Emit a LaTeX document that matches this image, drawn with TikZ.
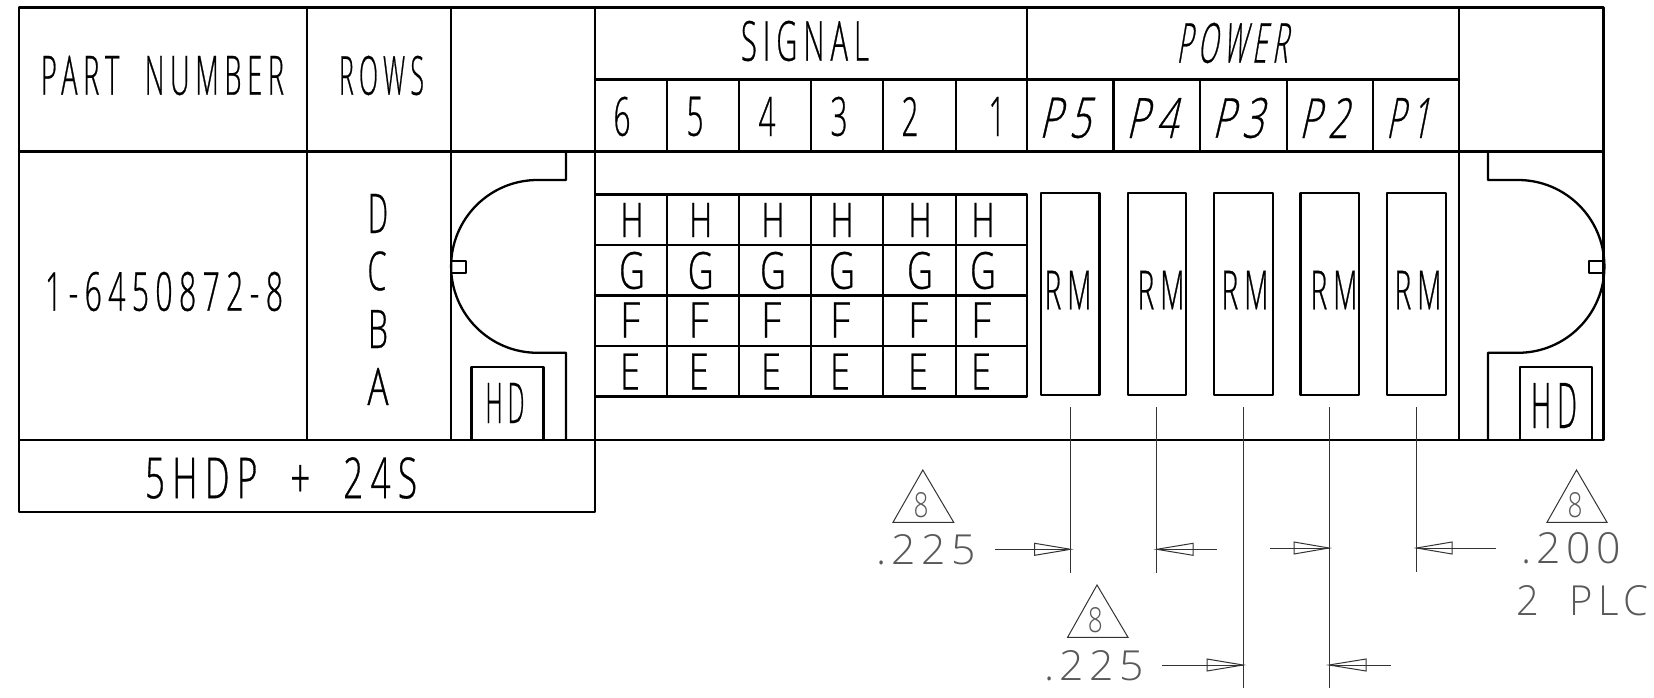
\documentclass[tikz,border=0pt]{standalone}
\usepackage{fontspec}
\newfontfamily\cad[FakeStretch=0.57,LetterSpace=12,FakeBold=0.5]{Open Sans Light}
\newfontfamily\cadi[FakeStretch=0.57,LetterSpace=12,FakeSlant=0.2,FakeBold=0.5]{Open Sans Light}
\newfontfamily\cadd[FakeStretch=0.62,LetterSpace=8]{Open Sans Light}
\newcommand\T[3]{\resizebox{#1pt}{#2pt}{\fontsize{53}{53}\cad #3}}
\newcommand\TI[3]{\resizebox{#1pt}{#2pt}{\fontsize{53}{53}\cadi #3}}
\newcommand\TD[3]{\resizebox{#1pt}{#2pt}{\fontsize{53}{53}\cadd #3}}
\tikzset{
  heavy/.style={line width=2.3pt,line cap=round,line join=round,black},
  thinline/.style={line width=1pt,black!80},
  lbl/.style={inner sep=0pt,outer sep=0pt,anchor=center,black},
  dim/.style={inner sep=0pt,outer sep=0pt,anchor=center,black!65},
}
\begin{document}
\begin{tikzpicture}[x=1pt,y=-1pt]
\useasboundingbox (0,0) rectangle (1654,698);
% outer frame and table rules
\draw[heavy] (19,7.5) rectangle (1603.5,440);
\draw[heavy] (19,151.5) -- (1603.5,151.5);
\draw[heavy] (19,440) -- (19,512) -- (595,512) -- (595,440);
\foreach \x in {307,451}{\draw[heavy] (\x,7.5) -- (\x,440);}
\draw[heavy] (595,7.5) -- (595,440);
\draw[heavy] (1459,7.5) -- (1459,440);
\draw[heavy] (1027,7.5) -- (1027,151.5);
\draw[heavy] (595,79.5) -- (1459,79.5);
\foreach \x in {667,739,811,883,956}{\draw[heavy] (\x,79.5) -- (\x,151.5);}
\foreach \x in {1113.5,1200,1287,1373}{\draw[heavy] (\x,79.5) -- (\x,151.5);}
% left key
\draw[heavy] (566,151.5) -- (566,180) -- (537.5,180) arc[start angle=90,end angle=270,radius=86.4pt] -- (566,352.8) -- (566,440);
\draw[heavy] (451,261) -- (466,261) -- (466,273) -- (451,273);
\draw[heavy] (471.5,440) -- (471.5,367) -- (543.5,367) -- (543.5,440);
% right key
\draw[heavy] (1488,151.5) -- (1488,180) -- (1518,180) arc[start angle=90,end angle=-90,radius=86.4pt] -- (1488,352.8) -- (1488,440);
\draw[heavy] (1603,261) -- (1589,261) -- (1589,273) -- (1603,273);
\draw[heavy] (1520,440) -- (1520,367) -- (1592,367) -- (1592,440);
% signal grid
\draw[heavy] (595,194.5) -- (1027,194.5) -- (1027,396.5) -- (595,396.5);
\foreach \y in {245,295.5,346}{\draw[heavy] (595,\y) -- (1027,\y);}
\foreach \x in {667,739,811,883,956}{\draw[heavy] (\x,194.5) -- (\x,396.5);}
% power contacts
\foreach \a/\b in {1041/1099.5,1128/1186,1214/1273,1300.5/1359,1387/1446}{\draw[heavy] (\a,193) rectangle (\b,395);}
% headings
\node[lbl] (partnumber) at (162.5,75.5) {\T{243}{39}{PART\ \ NUMBER}};
\node[lbl] (rows) at (381.5,75.5) {\T{85}{39}{ROWS}};
\node[lbl] (partno) at (164,291.5) {\T{238}{39}{1-6450872-8}};
\node[lbl] (rowd) at (378,213.5) {\T{20}{39}{D}};
\node[lbl] (rowc) at (377,271) {\T{19}{39}{C}};
\node[lbl] (rowb) at (378,329) {\T{20}{38}{B}};
\node[lbl] (rowa) at (378,386.5) {\T{21}{37}{A}};
\node[lbl] (hdl) at (505,403) {\T{39}{40}{HD}};
\node[lbl] (hdr) at (1554,405.5) {\T{46}{45}{HD}};
\node[lbl] (combo) at (281,478) {\T{272}{41}{5HDP\ \ +\ \ 24S}};
\node[lbl] (signal) at (805,41) {\T{128}{40}{SIGNAL}};
\node[lbl] (power) at (1232,43) {\TI{111}{40}{POWER}};
\foreach \t/\x in {6/622,5/695,4/767,3/839,2/910,1/997}{
  \node[lbl] (col\t) at (\x,116.5) {\T{17}{39}{\t}};
}
\foreach \t/\x/\w in {5/1064.5/51,4/1151.5/51,3/1237.5/51,2/1323.5/49,1/1407.5/43}{
  \node[lbl] (pw\t) at (\x,118) {\TI{\w}{40}{P\t}};
}
% row letters
\foreach \n/\x in {a/632,b/700.7,c/773,d/842,e/920,f/983}{
  \node[lbl] (h\n) at (\x,220) {\T{23}{34}{H}};
  \node[lbl] (g\n) at (\x,270.5) {\T{26}{37}{G}};
  \node[lbl] (f\n) at (\x-2,320) {\T{20}{35}{F}};
  \node[lbl] (e\n) at (\x-2,371.5) {\T{20}{36}{E}};
}
\foreach \n/\x in {a/1068,b/1161,c/1245,d/1334,e/1418}{
  \node[lbl] (rm\n) at (\x,290) {\T{47}{38.5}{RM}};
}
% extension lines
\coordinate (ea) at (1070.6,407); \coordinate (eb) at (1156.7,407); \coordinate (ec) at (1243,407);
\coordinate (ed) at (1329,407); \coordinate (ee) at (1416.5,407);
\coordinate (fa) at (1070.6,573); \coordinate (fb) at (1156.7,573); \coordinate (fc) at (1243,688);
\coordinate (fd) at (1329,688); \coordinate (fe) at (1416.5,572);
\foreach \n in {a,b,c,d,e}{\draw[thinline] (e\n) -- (f\n);}
% dimension arrows: tip x / back x / tail x / y
\foreach \t/\b/\e/\y in {1070.6/1034.7/995/549.3,1156.7/1193/1217/549.3,1329/1294/1270/548,1416.5/1452/1495.5/548,1243/1207/1162/665,1329/1366/1390.6/665}{
  \draw[thinline] (\e,\y) -- (\t,\y);
  \draw[thinline] (\t,\y) -- (\b,\y-6) -- (\b,\y+6) -- cycle;
}
% triangles
\foreach \n/\ax/\ay/\lx/\rx/\by/\cx/\cy in {u/922.8/470/893/953.7/522.3/921/505,v/1576.5/470/1547/1607/522.3/1575/505,w/1097/585/1067.6/1128/637.3/1095.4/620}{
  \draw[thinline] (\ax,\ay) -- (\rx,\by) -- (\lx,\by) -- cycle;
  \node[dim] (eight\n) at (\cx,\cy) {\TD{15}{25}{8}};
}
\node[dim] (dima) at (926,550) {\TD{100}{30}{.225}};
\node[dim] (dimb) at (1571,548.5) {\TD{100}{31}{.200}};
\node[dim] (dimc) at (1094,665.5) {\TD{100}{30}{.225}};
\node[dim] (plc) at (1582,601) {\TD{132}{30}{2\ \ PLC}};
\end{tikzpicture}
\end{document}
